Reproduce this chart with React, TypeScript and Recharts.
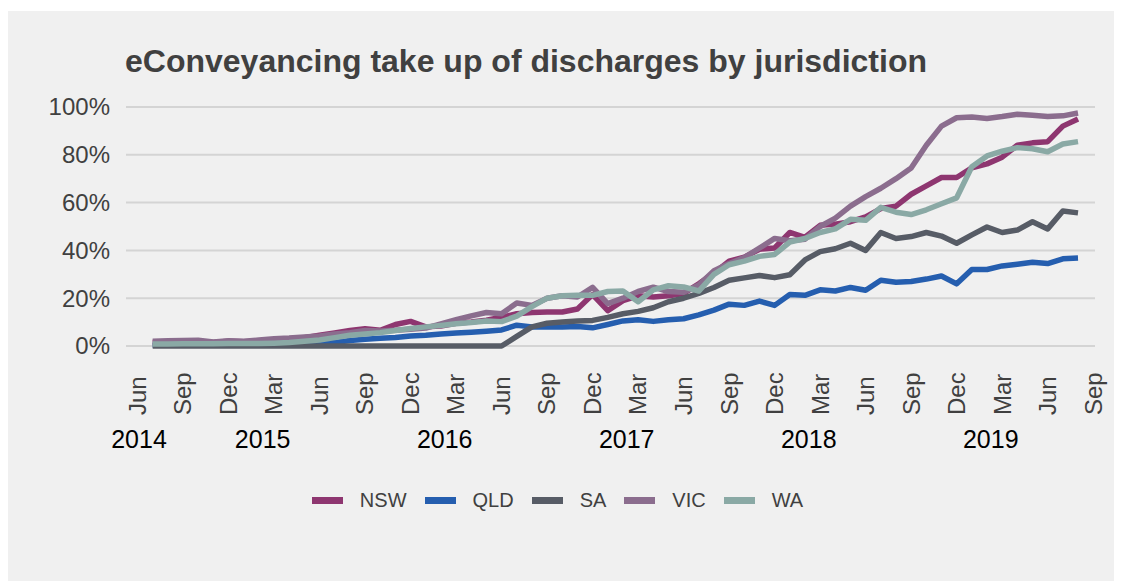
import { CartesianGrid, Legend, Line, LineChart, XAxis, YAxis } from "recharts";

const FONT = "'Liberation Sans', Arial, sans-serif";

// monthly observations, Jul 2014 .. Aug 2019
const months = [
  "2014-07", "2014-08", "2014-09", "2014-10", "2014-11", "2014-12",
  "2015-01", "2015-02", "2015-03", "2015-04", "2015-05", "2015-06",
  "2015-07", "2015-08", "2015-09", "2015-10", "2015-11", "2015-12",
  "2016-01", "2016-02", "2016-03", "2016-04", "2016-05", "2016-06",
  "2016-07", "2016-08", "2016-09", "2016-10", "2016-11", "2016-12",
  "2017-01", "2017-02", "2017-03", "2017-04", "2017-05", "2017-06",
  "2017-07", "2017-08", "2017-09", "2017-10", "2017-11", "2017-12",
  "2018-01", "2018-02", "2018-03", "2018-04", "2018-05", "2018-06",
  "2018-07", "2018-08", "2018-09", "2018-10", "2018-11", "2018-12",
  "2019-01", "2019-02", "2019-03", "2019-04", "2019-05", "2019-06",
  "2019-07", "2019-08",
];

const nsw = [
  1.5, 1.8, 2, 1.8, 1.5, 2, 1.8, 2, 2.5, 3, 3.5, 4.5,
  5.5, 6.5, 7.2, 6.6, 9, 10.3, 8, 8.4, 9.5, 10, 10.8, 12,
  13.5, 14, 14.2, 14.2, 15.5, 21.5, 14.8, 19, 21, 20.5, 21, 22,
  26, 30.5, 35.5, 37.2, 40.5, 41, 47.5, 45.5, 50.5, 51, 52, 54,
  57.5, 58.5, 63.5, 67, 70.5, 70.5, 74.5, 76.2, 79, 84, 85, 85.5,
  92, 95,
];
const qld = [
  0.3, 0.3, 0.3, 0.3, 0.3, 0.3, 0.4, 0.4, 0.5, 0.5, 0.6, 1,
  1.5, 2.3, 2.8, 3.2, 3.6, 4.2, 4.5, 5, 5.4, 5.8, 6.2, 6.7,
  8.7, 8, 7.9, 8, 8.2, 7.6, 9, 10.5, 11, 10.3, 11, 11.4,
  13, 15, 17.5, 17, 18.8, 17, 21.5, 21.2, 23.5, 23, 24.5, 23.3,
  27.5, 26.7, 27, 28, 29.3, 26, 32, 32, 33.5, 34.2, 35, 34.5,
  36.5, 36.8,
];
const sa = [
  0, 0, 0, 0, 0, 0, 0, 0, 0, 0, 0, 0,
  0, 0, 0, 0, 0, 0, 0, 0, 0, 0, 0, 0,
  4, 8, 9.5, 10, 10.5, 10.7, 12, 13.5, 14.5, 16, 18.5, 20,
  22, 24.5, 27.5, 28.5, 29.5, 28.6, 29.8, 36, 39.5, 40.7, 43, 40,
  47.5, 45, 45.8, 47.5, 46, 43, 46.5, 49.8, 47.5, 48.5, 52, 49,
  56.5, 55.7,
];
const vic = [
  2, 2.2, 2.3, 2.4, 1.7, 2.2, 2, 2.5, 3, 3.3, 3.8, 4.2,
  5, 5.6, 6.5, 6.3, 6.6, 7, 7.5, 9.3, 11, 12.6, 14, 13.5,
  18, 17, 20, 21, 20.5, 24.5, 17.7, 20, 22.8, 24.6, 22.8, 22.5,
  25.5, 31.5, 34.5, 37, 41, 45, 44, 44.7, 50, 53.5, 58.5, 62.5,
  66, 70, 74.5, 84, 92, 95.5, 95.8, 95.2, 96, 97, 96.5, 96,
  96.3, 97.5,
];
const wa = [
  0.8, 0.8, 0.9, 0.9, 0.9, 1, 1, 1, 1.2, 1.5, 2, 2.5,
  3.5, 4.5, 5, 5.6, 6.5, 7.3, 8, 8.6, 9.3, 9.8, 10.5, 10.2,
  12.5, 16.5, 20, 21, 21.2, 21.2, 22.8, 23, 18.5, 23.5, 25.2, 24.7,
  23, 30, 34, 35.5, 37.5, 38.3, 43.5, 45, 47.5, 49, 53, 52.6,
  58, 56, 55, 57, 59.5, 62, 75, 79.5, 81.5, 83, 82.5, 81.3,
  84.5, 85.5,
];

const series = [
  { key: "NSW", color: "#8e3670", values: nsw },
  { key: "QLD", color: "#255eaf", values: qld },
  { key: "SA", color: "#575c66", values: sa },
  { key: "VIC", color: "#8b6d8e", values: vic },
  { key: "WA", color: "#8aa9a5", values: wa },
];

// x is months since Jun 2014
const monthTicks = [0, 3, 6, 9, 12, 15, 18, 21, 24, 27, 30, 33, 36, 39, 42, 45, 48, 51, 54, 57, 60, 63];
const monthTickLabels = [
  "Jun", "Sep", "Dec", "Mar", "Jun", "Sep", "Dec", "Mar", "Jun", "Sep", "Dec",
  "Mar", "Jun", "Sep", "Dec", "Mar", "Jun", "Sep", "Dec", "Mar", "Jun", "Sep",
];
const yearTicks = [0.1, 8.25, 20.25, 32.25, 44.25, 56.25];
const yearLabels = ["2014", "2015", "2016", "2017", "2018", "2019"];
const yTicks = [0, 20, 40, 60, 80, 100];

const X_DOMAIN = [-0.76, 63.12];

function monthIndex(s: string) {
  const [y, mo] = s.split("-").map(Number);
  return (y - 2014) * 12 + (mo - 6);
}

const data = months.map((mo, i) => {
  const row: Record<string, number> = { m: monthIndex(mo) };
  series.forEach((s) => (row[s.key] = s.values[i]));
  return row;
});

function MonthTick({ x, y, payload }: any) {
  const label = monthTickLabels[monthTicks.indexOf(payload.value)];
  return (
    <text
      x={x}
      y={y}
      transform={`rotate(-90, ${x}, ${y})`}
      textAnchor="start"
      dy="0.35em"
      fill="#404040"
      fontSize={24}
      fontFamily={FONT}
    >
      {label}
    </text>
  );
}

function YearTick({ x, y, payload }: any) {
  const label = yearLabels[yearTicks.indexOf(payload.value)];
  return (
    <text x={x} y={y} dy="0.71em" textAnchor="middle" fill="#000" fontSize={25} fontFamily={FONT}>
      {label}
    </text>
  );
}

function PctTick({ x, y, payload }: any) {
  return (
    <text x={x} y={y} dy="0.35em" textAnchor="end" fill="#404040" fontSize={24} fontFamily={FONT}>
      {`${payload.value}%`}
    </text>
  );
}

function LegendBox() {
  return (
    <div
      style={{
        height: 55,
        display: "flex",
        alignItems: "flex-end",
        justifyContent: "center",
        paddingLeft: 12,
        fontFamily: FONT,
      }}
    >
      <div style={{ height: 30, display: "flex", alignItems: "center", gap: 18 }}>
        {series.map((s) => (
          <div key={s.key} style={{ display: "flex", alignItems: "center" }}>
            <span style={{ width: 31, height: 7, background: s.color, marginRight: 17 }} />
            <span style={{ fontSize: 20, color: "#404040" }}>{s.key}</span>
          </div>
        ))}
      </div>
    </div>
  );
}

export default function App() {
  return (
    <div style={{ paddingTop: 3, background: "#fff" }}>
      <div
        style={{
          position: "relative",
          width: 1114,
          height: 570,
          background: "#f0f0f0",
          fontFamily: FONT,
        }}
      >
        <div
          style={{
            position: "absolute",
            left: 117,
            top: 32,
            fontSize: 32,
            fontWeight: 700,
            lineHeight: "36px",
            color: "#404040",
            whiteSpace: "nowrap",
          }}
        >
          eConveyancing take up of discharges by jurisdiction
        </div>
        <LineChart
          width={1114}
          height={570}
          data={data}
          margin={{ top: 96, right: 27, left: 0, bottom: 66 }}
        >
          <CartesianGrid vertical={false} stroke="#d4d4d4" strokeWidth={2} />
          <XAxis
            dataKey="m"
            type="number"
            domain={X_DOMAIN}
            allowDataOverflow
            ticks={monthTicks}
            interval={0}
            tick={<MonthTick />}
            tickLine={false}
            axisLine={false}
            tickSize={0}
            tickMargin={69}
            height={74}
          />
          <XAxis
            xAxisId="year"
            dataKey="m"
            type="number"
            domain={X_DOMAIN}
            allowDataOverflow
            ticks={yearTicks}
            interval={0}
            tick={<YearTick />}
            tickLine={false}
            axisLine={false}
            tickSize={0}
            tickMargin={10}
            height={40}
          />
          <YAxis
            domain={[0, 100]}
            ticks={yTicks}
            interval={0}
            tick={<PctTick />}
            tickLine={false}
            axisLine={false}
            tickSize={0}
            tickMargin={16}
            width={118}
          />
          <Legend verticalAlign="bottom" content={() => <LegendBox />} />
          {series.map((s) => (
            <Line
              key={s.key}
              dataKey={s.key}
              stroke={s.color}
              strokeWidth={5.5}
              dot={false}
              activeDot={false}
              strokeLinejoin="round"
              isAnimationActive={false}
            />
          ))}
        </LineChart>
      </div>
    </div>
  );
}
